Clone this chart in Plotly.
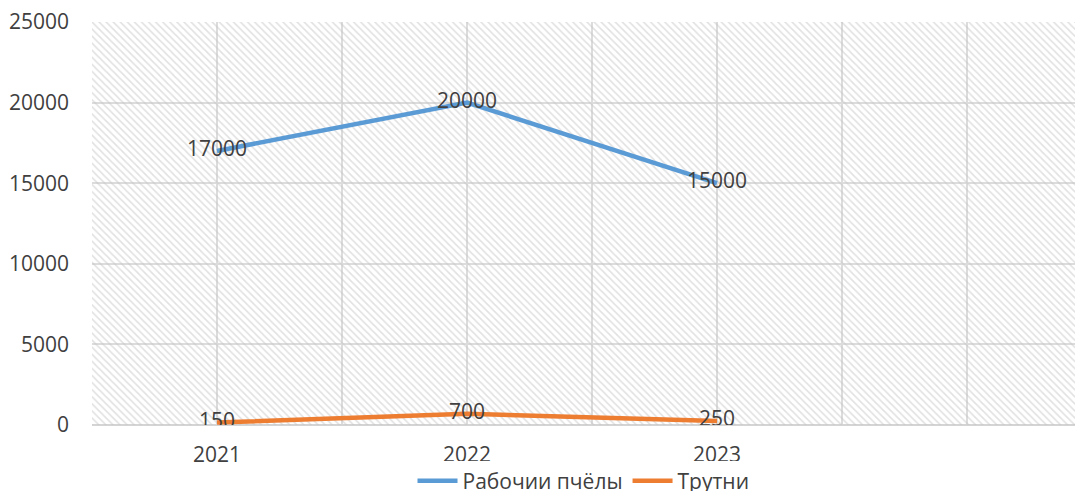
import plotly.graph_objects as go

years = ["2021", "2022", "2023"]
workers = [17000, 20000, 15000]
drones = [150, 700, 250]
name_workers = "Рабочии пчёлы"
name_drones = "Трутни"
y_ticks = [0, 5000, 10000, 15000, 20000, 25000]

x_idx = list(range(len(years)))
x_min, x_max = -0.5, 3.432
y_min, y_max = 0, 25000

FONT = "Open Sans, Liberation Sans, sans-serif"
TXT = "#404040"

fig = go.Figure()

# hatched plot-area background
fig.add_trace(go.Scatter(
    x=[x_min, x_max, x_max, x_min, x_min],
    y=[y_min, y_min, y_max, y_max, y_min],
    mode="lines", fill="toself", line=dict(width=0),
    fillcolor="rgba(0,0,0,0)",
    fillpattern=dict(shape="\\", fgcolor="#c4c4c4", bgcolor="rgba(0,0,0,0)", size=5, solidity=0.33),
    hoverinfo="skip", showlegend=False,
))

fig.add_trace(go.Scatter(
    x=x_idx, y=workers, name=name_workers, mode="lines+text",
    line=dict(color="#5B9BD5", width=4.5),
    text=[str(v) for v in workers], textposition="middle center",
    textfont=dict(size=21, color=TXT, family=FONT),
))
fig.add_trace(go.Scatter(
    x=x_idx, y=drones, name=name_drones, mode="lines+text",
    line=dict(color="#ED7D31", width=4.5),
    text=[str(v) for v in drones], textposition="middle center",
    textfont=dict(size=21, color=TXT, family=FONT),
))

grid_vals = [v / 2 for v in range(-1, 7)]
grid_text = [years[int(v)] if v >= 0 and v == int(v) and int(v) < len(years) else "" for v in grid_vals]

fig.update_layout(
    width=1079, height=491,
    margin=dict(l=92, r=4, t=22, b=66),
    paper_bgcolor="white", plot_bgcolor="white",
    font=dict(family=FONT, size=21, color=TXT),
    showlegend=True,
    legend=dict(orientation="h", x=0.5, xanchor="center", xref="paper",
                y=0.02, yanchor="middle", yref="container", font=dict(size=21, color=TXT),
                itemwidth=40, tracegroupgap=0),
    xaxis=dict(range=[x_min, x_max], tickmode="array", tickvals=grid_vals, ticktext=grid_text,
               showgrid=True, gridcolor="#dcdcdc", gridwidth=1.5, automargin=False,
               zeroline=False, showline=False, ticks="", ticklabelstandoff=15,
               tickfont=dict(size=21, color=TXT)),
    yaxis=dict(range=[y_min, y_max], tickmode="array", tickvals=y_ticks,
               ticktext=[str(v) for v in y_ticks], automargin=False,
               showgrid=True, gridcolor="#dcdcdc", gridwidth=1.5,
               zeroline=True, zerolinecolor="#d4d4d4", zerolinewidth=2,
               showline=False, ticks="", ticklabelstandoff=22,
               tickfont=dict(size=21, color=TXT)),
)

fig.write_html("out.html", config={"displayModeBar": False},
               post_script="document.body.style.margin='0';")
